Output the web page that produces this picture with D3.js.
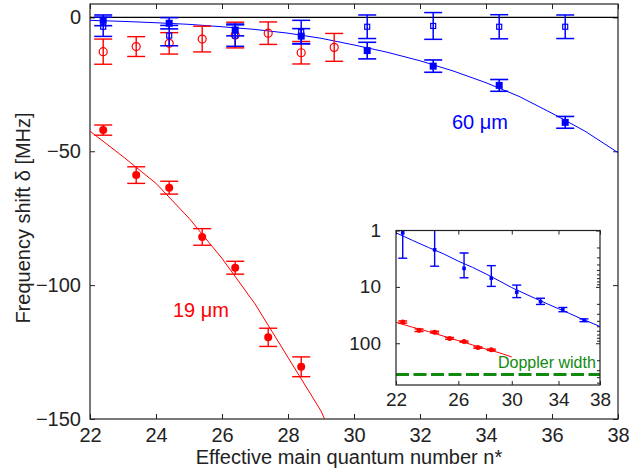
<!DOCTYPE html>
<html>
<head>
<meta charset="utf-8">
<script src="https://cdn.jsdelivr.net/npm/d3@7"></script>
<style>
  body { margin: 0; background: #fff; }
  svg { display: block; font-family: "Liberation Sans", Arial, sans-serif; }
</style>
</head>
<body>
<svg id="chart" width="631" height="474"></svg>
<script>
// measured points, 60 um (blue) and 19 um (red)
const nBlue = [22.4, 24.4, 26.4, 28.4, 30.4, 32.4, 34.4, 36.4];
const blueFilled = [-1.1, -2.2, -4.7, -7.0, -12.4, -18.2, -25.4, -39.2];
const blueFilledErr = [2.0, 2.1, 2.2, 2.8, 3.1, 2.3, 2.2, 2.2];
const blueOpen = [-3.5, -6.8, -6.8, -5.5, -3.5, -3.2, -3.5, -3.5];
const blueOpenErr = [3.6, 3.8, 4.0, 4.4, 4.4, 5.0, 4.5, 4.4];

const nRed = [22.4, 23.4, 24.4, 25.4, 26.4, 27.4, 28.4];
const redFilled = [-42.1, -58.9, -63.6, -82.0, -93.5, -119.5, -130.5];
const redFilledErr = [1.9, 3.1, 2.4, 3.1, 2.4, 3.4, 3.7];

const nRedOpen = [22.4, 23.4, 24.4, 25.4, 26.4, 27.4, 28.4, 29.4];
const redOpen = [-12.8, -10.9, -9.7, -8.1, -6.6, -5.9, -13.2, -11.2];
const redOpenErr = [4.7, 3.7, 4.0, 4.8, 4.8, 4.2, 4.2, 5.2];

// fitted curves
const blueFitN = [22, 23, 24, 25, 26, 27, 28, 29, 30, 31, 32, 33, 34, 35, 36, 37, 38];
const blueFitVal = [-1.1, -1.5, -2.0, -2.6, -3.5, -4.5, -5.9, -7.8, -10.3, -13.0, -16.2, -20.0, -24.4, -29.5, -35.8, -42.5, -50.5];
const redFitN = [22, 23, 24, 25, 26, 27, 28, 29, 30];
const redFitVal = [-42.5, -52, -62, -75, -90, -107, -127, -147, -175];

const dopplerWidth = 360;

const mainXTicks = [22, 24, 26, 28, 30, 32, 34, 36, 38];
const mainYTicks = [0, -50, -100, -150];
const insetXTicks = [22, 26, 30, 34, 38];
const insetYTicks = [1, 10, 100];

const blue = '#0000ff', red = '#ff0000', green = '#108a10', ink = '#222';

const svg = d3.select('#chart');

/**
 * main axes
 */

const x = d3.scaleLinear().domain([22, 38]).range([90, 618]);
const y = d3.scaleLinear().domain([-150, 5]).range([419, 4]);

svg.append('clipPath').attr('id', 'mainClip')
  .append('rect').attr('x', 90).attr('y', 4).attr('width', 528).attr('height', 415);

function drawAxis(g, axis, tx, ty, fontSize) {
  const a = g.append('g').attr('transform', `translate(${tx},${ty})`).call(axis);
  a.select('.domain').remove();
  a.selectAll('line').attr('stroke', ink);
  a.selectAll('text').attr('fill', ink).style('font-size', fontSize + 'px');
  return a;
}

drawAxis(svg, d3.axisBottom(x).tickValues(mainXTicks).tickSize(-5).tickPadding(9), 0, 419, 20);
drawAxis(svg, d3.axisTop(x).tickValues(mainXTicks).tickSize(-5).tickFormat(''), 0, 4, 20);
drawAxis(svg, d3.axisLeft(y).tickValues(mainYTicks).tickSize(-5).tickPadding(9).tickFormat(d3.format('d')), 90, 0, 20);
drawAxis(svg, d3.axisRight(y).tickValues(mainYTicks).tickSize(-5).tickFormat(''), 618, 0, 20);

svg.append('rect').attr('x', 90).attr('y', 4).attr('width', 528).attr('height', 415)
  .attr('fill', 'none').attr('stroke', ink).attr('stroke-width', 1.2);

const plot = svg.append('g').attr('clip-path', 'url(#mainClip)');

plot.append('line')
  .attr('x1', x(22)).attr('x2', x(38)).attr('y1', y(0)).attr('y2', y(0))
  .attr('stroke', '#000').attr('stroke-width', 1.2);

function errorBars(g, xs, vs, es, sx, sy, color, cap, width) {
  const data = xs.map((n, i) => ({ n, lo: vs[i] - es[i], hi: vs[i] + es[i] }));
  const bars = g.append('g').attr('stroke', color).attr('stroke-width', width);
  bars.selectAll('.v').data(data).join('line')
    .attr('x1', d => sx(d.n)).attr('x2', d => sx(d.n))
    .attr('y1', d => sy(d.lo)).attr('y2', d => sy(d.hi));
  ['lo', 'hi'].forEach(k => {
    bars.selectAll('.' + k).data(data).join('line')
      .attr('x1', d => sx(d.n) - cap / 2).attr('x2', d => sx(d.n) + cap / 2)
      .attr('y1', d => sy(d[k])).attr('y2', d => sy(d[k]));
  });
}

const fitLine = d3.line().x(d => x(d[0])).y(d => y(d[1]));

plot.append('path').datum(d3.zip(blueFitN, blueFitVal))
  .attr('d', fitLine).attr('fill', 'none').attr('stroke', blue).attr('stroke-width', 1);
plot.append('path').datum(d3.zip(redFitN, redFitVal))
  .attr('d', fitLine).attr('fill', 'none').attr('stroke', red).attr('stroke-width', 1);

// red open circles
errorBars(plot, nRedOpen, redOpen, redOpenErr, x, y, red, 18, 1.4);
plot.append('g').selectAll('circle').data(d3.zip(nRedOpen, redOpen)).join('circle')
  .attr('cx', d => x(d[0])).attr('cy', d => y(d[1])).attr('r', 4)
  .attr('fill', 'none').attr('stroke', red).attr('stroke-width', 1.2);

// blue open squares
errorBars(plot, nBlue, blueOpen, blueOpenErr, x, y, blue, 18, 1.5);
plot.append('g').selectAll('rect').data(d3.zip(nBlue, blueOpen)).join('rect')
  .attr('x', d => x(d[0]) - 2.5).attr('y', d => y(d[1]) - 2.5)
  .attr('width', 5).attr('height', 5)
  .attr('fill', 'none').attr('stroke', blue).attr('stroke-width', 1.2);

// blue filled squares
errorBars(plot, nBlue, blueFilled, blueFilledErr, x, y, blue, 18, 1.6);
plot.append('g').selectAll('rect').data(d3.zip(nBlue, blueFilled)).join('rect')
  .attr('x', d => x(d[0]) - 3.5).attr('y', d => y(d[1]) - 3.5)
  .attr('width', 7).attr('height', 7).attr('fill', blue);

// red filled circles
errorBars(plot, nRed, redFilled, redFilledErr, x, y, red, 18, 1.4);
plot.append('g').selectAll('circle').data(d3.zip(nRed, redFilled)).join('circle')
  .attr('cx', d => x(d[0])).attr('cy', d => y(d[1])).attr('r', 4).attr('fill', red);

svg.append('text').attr('x', 452).attr('y', 129).attr('fill', blue)
  .style('font-size', '20px').text('60 μm');
svg.append('text').attr('x', 173).attr('y', 317).attr('fill', red)
  .style('font-size', '20px').text('19 μm');

svg.append('text').attr('x', 349).attr('y', 464).attr('text-anchor', 'middle')
  .attr('fill', ink).style('font-size', '20px').text('Effective main quantum number n*');
svg.append('text').attr('transform', 'translate(30,218) rotate(-90)').attr('text-anchor', 'middle')
  .attr('fill', ink).style('font-size', '20px').text('Frequency shift δ [MHz]');

/**
 * inset: |shift| on log-log axes
 */

const ix = d3.scaleLog().domain([22, 38]).range([396, 600]);
const iy = d3.scaleLog().domain([1, 550]).range([230.5, 385]);

svg.append('rect').attr('x', 396).attr('y', 230.5).attr('width', 204).attr('height', 154.5)
  .attr('fill', '#fff');

svg.append('clipPath').attr('id', 'insetClip')
  .append('rect').attr('x', 396).attr('y', 230.5).attr('width', 204).attr('height', 154.5);

drawAxis(svg, d3.axisBottom(ix).tickValues(insetXTicks).tickSize(-4).tickPadding(8).tickFormat(d3.format('d')), 0, 385, 19);
drawAxis(svg, d3.axisTop(ix).tickValues(insetXTicks).tickSize(-4).tickFormat(''), 0, 230.5, 19);
drawAxis(svg, d3.axisLeft(iy).tickValues(insetYTicks).tickSize(-4).tickPadding(15).tickFormat(d3.format('d')), 396, 0, 19);
const minorTicks = d3.range(2, 10).concat(d3.range(20, 100, 10), d3.range(200, 600, 100));
drawAxis(svg, d3.axisRight(iy).tickValues(minorTicks).tickSize(-3).tickFormat(''), 600, 0, 19);
drawAxis(svg, d3.axisRight(iy).tickValues(insetYTicks).tickSize(-4).tickFormat(''), 600, 0, 19);

const inset = svg.append('g').attr('clip-path', 'url(#insetClip)');

const absSafe = v => Math.max(Math.abs(v), 0.01);
const iLine = d3.line().x(d => ix(d[0])).y(d => iy(absSafe(d[1])));

inset.append('path').datum(d3.zip(blueFitN, blueFitVal))
  .attr('d', iLine).attr('fill', 'none').attr('stroke', blue).attr('stroke-width', 1);
inset.append('path').datum(d3.zip(redFitN, redFitVal))
  .attr('d', iLine).attr('fill', 'none').attr('stroke', red).attr('stroke-width', 1);

const iyAbs = v => iy(absSafe(v));
errorBars(inset, nBlue, blueFilled, blueFilledErr, ix, iyAbs, blue, 9, 1.4);
inset.append('g').selectAll('rect').data(d3.zip(nBlue, blueFilled)).join('rect')
  .attr('x', d => ix(d[0]) - 1.8).attr('y', d => iy(Math.abs(d[1])) - 1.8)
  .attr('width', 3.6).attr('height', 3.6).attr('fill', blue);

errorBars(inset, nRed, redFilled, redFilledErr, ix, iyAbs, red, 9, 1.4);
inset.append('g').selectAll('circle').data(d3.zip(nRed, redFilled)).join('circle')
  .attr('cx', d => ix(d[0])).attr('cy', d => iy(Math.abs(d[1]))).attr('r', 2.5).attr('fill', red);

inset.append('line')
  .attr('x1', ix(22)).attr('x2', ix(38)).attr('y1', iy(dopplerWidth)).attr('y2', iy(dopplerWidth))
  .attr('stroke', green).attr('stroke-width', 3).attr('stroke-dasharray', '13,4.5');

svg.append('text').attr('x', 498).attr('y', 368).attr('fill', green)
  .style('font-size', '16px').text('Doppler width');

svg.append('rect').attr('x', 396).attr('y', 230.5).attr('width', 204).attr('height', 154.5)
  .attr('fill', 'none').attr('stroke', ink).attr('stroke-width', 1.2);
</script>
</body>
</html>
